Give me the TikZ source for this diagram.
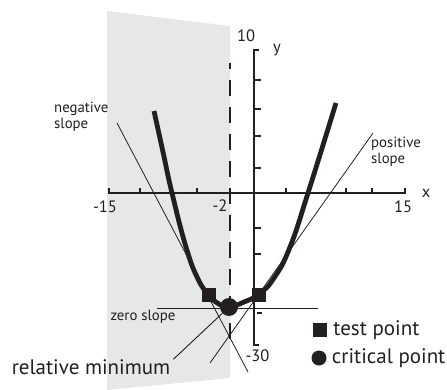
\documentclass[tikz,border=0pt]{standalone}
\usepackage{fontspec}
\setmainfont{PT Sans}
\usepackage{tikz}
\usetikzlibrary{positioning}
\definecolor{ink}{RGB}{35,31,32}
\definecolor{paneshade}{RGB}{230,231,232}

\begin{document}
\begin{tikzpicture}[
  x=1pt, y=-1pt, ink,
  curve/.style={line width=4.8pt, line join=round},
  axis/.style={line width=2pt},
  tangent/.style={line width=0.8pt},
  numlabel/.style={font=\fontsize{16.5}{16.5}\selectfont, inner sep=0pt},
  slopelabel/.style={font=\fontsize{14.8}{16}\selectfont, align=left, inner sep=0pt},
  biglabel/.style={font=\fontsize{21}{22}\selectfont, inner sep=0pt},
  testpt/.style={fill=ink, minimum size=14pt, inner sep=0pt},
  critpt/.style={circle, fill=ink, minimum size=18pt, inner sep=0pt},
]
  \useasboundingbox (0,0) rectangle (447,390);
  \fill[paneshade] (107,11) -- (230,26) -- (230,378) -- (107,390) -- cycle;
  \draw[line width=2.5pt, dash pattern=on 16pt off 11pt, dash phase=10pt] (230,63) -- (230,340);
  \draw[axis] (109,188) -- (109,193) -- (405,193) -- (405,188);
  \draw[axis] (140,193) -- (140,188) (197,193) -- (197,188) (286,193) -- (286,188) (346,193) -- (346,188) (372,193) -- (372,188);
  \draw[axis] (259,50) -- (254,50) -- (254,345) -- (259,345);
  \draw[axis] (254,80) -- (261,80) (254,109) -- (261,109) (254,136) -- (261,136) (254,168) -- (261,168) (254,228) -- (261,228) (254,254) -- (261,254) (257,313) -- (262,313);
  \node[numlabel] (ymax) at (246,35.5) {10};
  \node[numlabel] (ylab) at (277,50) {y};
  \node[numlabel] (xlab) at (426,193) {x};
  \node[numlabel] (xmax) at (403,206.5) {15};
  \node[numlabel] (xmin) at (105,206.5) {-15};
  \node[numlabel] (xcrit) at (220,206) {-2};
  \node[numlabel] (ymin) at (257.5,356) {-30};
  \coordinate (negtop) at (117,123);
  \coordinate (negbot) at (248,372);
  \coordinate (postop) at (373,133);
  \coordinate (posbot) at (210,363);
  \coordinate (zeroleft) at (157,308);
  \coordinate (zeroright) at (318,308);
  \draw[tangent] (negtop) -- (negbot);
  \draw[tangent] (postop) -- (posbot);
  \draw[tangent] (zeroleft) -- (zeroright);
  \draw[curve] plot[smooth, tension=0.8] coordinates {(154,111) (163,152) (172,193) (186,247) (198,279) (209,295) (219,304) (229,307) (244,302) (259,294) (274,278) (290,247) (308,193) (336,103)};
  \node[testpt] (lefttest) at (209,295) {};
  \node[testpt] (righttest) at (259,295) {};
  \node[critpt] (crit) at (229,307) {};
  \node[slopelabel, anchor=north west] (neglab) at (54,102) {negative\\slope};
  \node[slopelabel, anchor=north west] (poslab) at (371,137) {positive\\slope};
  \node[slopelabel] (zerolab) at (143,317) {zero slope};
  \node[biglabel] (relmin) at (91,367) {relative minimum};
  \draw[tangent, line width=0.9pt] ([xshift=3pt]relmin.north east) -- (crit);
  \node[testpt] (keytest) at (320,330) {};
  \node[biglabel, right=6pt of keytest] (keytesttext) {test point};
  \node[critpt, minimum size=15pt] (keycrit) at (319,358) {};
  \node[biglabel, right=5pt of keycrit] (keycrittext) {critical point};
\end{tikzpicture}
\end{document}
